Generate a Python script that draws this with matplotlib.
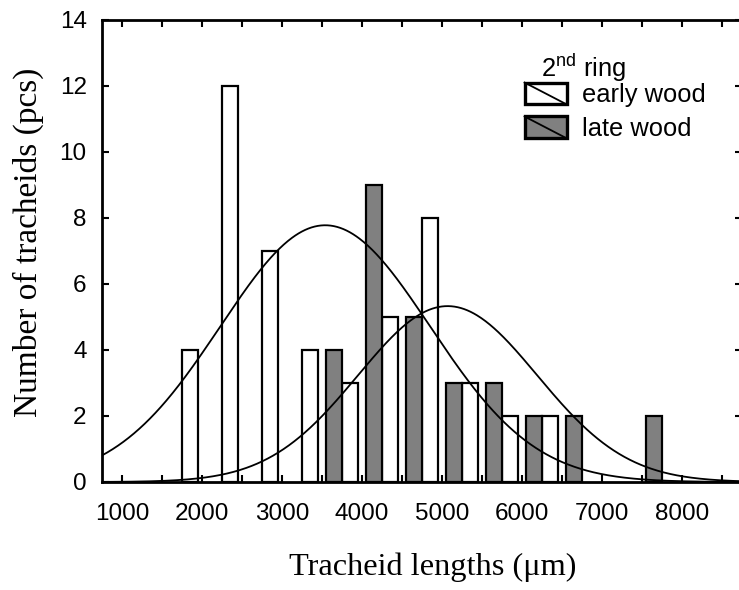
import numpy as np
import matplotlib
matplotlib.use("Agg")
import matplotlib.pyplot as plt
from matplotlib.patches import Rectangle
from matplotlib.lines import Line2D
from matplotlib.legend_handler import HandlerPatch

plt.rcParams['font.family'] = ['Liberation Sans', 'DejaVu Sans']
plt.rcParams['mathtext.fontset'] = 'custom'
plt.rcParams['mathtext.rm'] = 'Liberation Sans'

# ---- data ----
early_x = [1850, 2350, 2850, 3350, 3850, 4350, 4850, 5350, 5850, 6350]
early_counts = [4, 12, 7, 4, 3, 5, 8, 3, 2, 2]
late_x = [3650, 4150, 4650, 5150, 5650, 6150, 6650, 7650]
late_counts = [4, 9, 5, 3, 3, 2, 2, 2]
# fitted normal curves (mean, sd, peak height)
early_fit = (3540, 1310, 7.78)
late_fit = (5070, 1120, 5.33)
x_ticks = [1000, 2000, 3000, 4000, 5000, 6000, 7000, 8000]
y_ticks = [0, 2, 4, 6, 8, 10, 12, 14]

fig = plt.figure(figsize=(7.39, 5.90), dpi=100)
ax = fig.add_axes([102/739, 1-482/590, 640/739, 462/590])

bw = 200
ax.bar(early_x, early_counts, width=bw, color='white', edgecolor='black', linewidth=1.6, zorder=2)
ax.bar(late_x, late_counts, width=bw, color='#808080', edgecolor='black', linewidth=1.6, zorder=2)

xs = np.linspace(750, 8750, 600)
for m, s, p in (early_fit, late_fit):
    ax.plot(xs, p*np.exp(-0.5*((xs-m)/s)**2), color='black', lw=1.3, zorder=3)

ax.set_xlim(750, 8750)
ax.set_ylim(0, 14)
ax.set_xticks(x_ticks)
ax.set_xticks(np.arange(1000, 8751, 500), minor=True)
ax.set_yticks(y_ticks)
ax.tick_params(which='both', direction='in', top=True, right=True, length=5, width=1.5, labelsize=17.5)
ax.tick_params(axis='x', pad=15)
ax.tick_params(axis='y', pad=11)
for sp in ax.spines.values():
    sp.set_linewidth(2)

ax.set_xlabel('Tracheid lengths (\u03bcm)', family=['Liberation Serif', 'DejaVu Serif'], fontsize=23.3)
ax.set_ylabel('Number of tracheids (pcs)', family=['Liberation Serif', 'DejaVu Serif'], fontsize=24)
ax.xaxis.set_label_coords(0.516, -0.152)
ax.yaxis.set_label_coords(-0.091, 0.518)


class DiagHandler(HandlerPatch):
    def create_artists(self, legend, orig_handle, xdescent, ydescent, width, height, fontsize, trans):
        r = Rectangle((-xdescent, -ydescent), width, height, facecolor=orig_handle.get_facecolor(),
                      edgecolor='black', linewidth=2.4, transform=trans)
        l = Line2D([-xdescent, -xdescent+width], [-ydescent+height, -ydescent], color='black', lw=1.3, transform=trans)
        return [r, l]


h1 = Rectangle((0, 0), 1, 1, facecolor='white')
h2 = Rectangle((0, 0), 1, 1, facecolor='#808080')
leg = ax.legend([h1, h2], ['early wood', 'late wood'], handler_map={Rectangle: DiagHandler()},
                loc='upper left', bbox_to_anchor=(522/739, 1-80/590), bbox_transform=fig.transFigure,
                frameon=False, fontsize=18.4, handlelength=1.65, handleheight=0.94, handletextpad=0.58,
                labelspacing=0.36, borderpad=0.1, borderaxespad=0)
fig.text(541/739, 1-77/590, '2$^{\\mathrm{nd}}$ ring', fontsize=18.4, ha='left', va='baseline')

fig.savefig('out.png', dpi=100)
